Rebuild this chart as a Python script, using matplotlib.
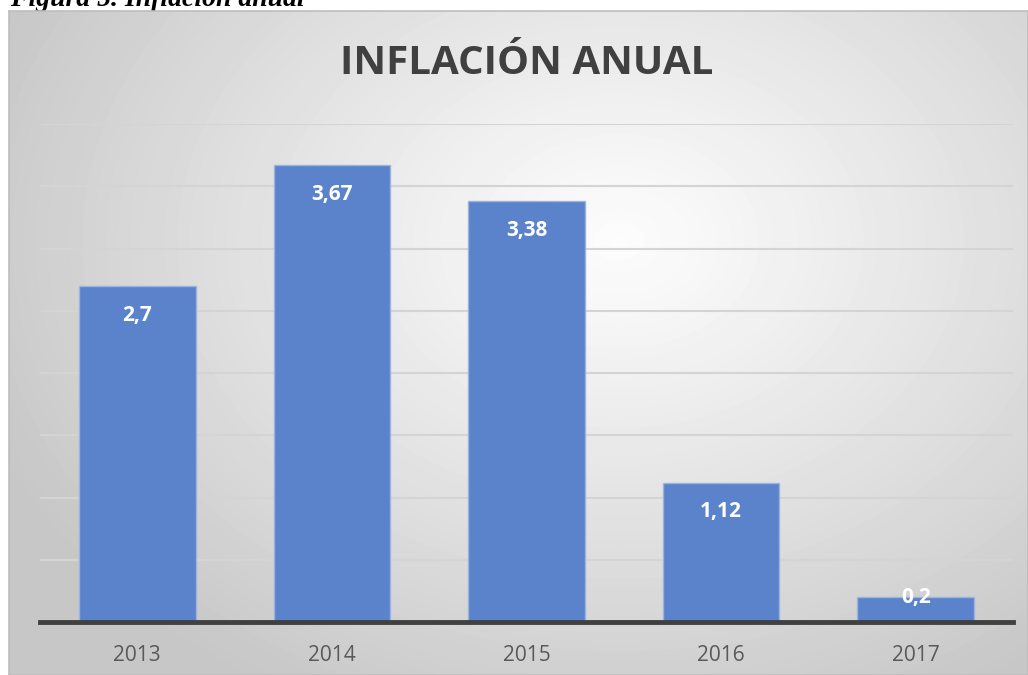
import numpy as np
from matplotlib import pyplot as plt

## DATA
years = ['2013', '2014', '2015', '2016', '2017']
inflacion = [2.7, 3.67, 3.38, 1.12, 0.2]
etiquetas = ['2,7', '3,67', '3,38', '1,12', '0,2']
titulo = 'INFLACIÓN ANUAL'
caption = 'Figura 5. Inflación anual'

W, H = 1028, 675
fig = plt.figure(figsize=(W / 100, H / 100), dpi=100)
fig.patch.set_facecolor('white')

# caption above the chart box (cut off at the top, as in the source)
fig.text(10 / W, 1 - 6 / H, caption, family='Liberation Serif', weight='bold',
         style='italic', fontsize=20, va='baseline', ha='left', zorder=-2)

# chart box with radial gradient
bg = fig.add_axes([9 / W, 0, (W - 9) / W, (H - 11) / H], zorder=-1)
bw, bh = W - 9, H - 11
xx, yy = np.meshgrid(np.arange(bw), np.arange(bh))
r = np.sqrt(((xx - 610) / 680.0) ** 2 + ((yy - 230) / 520.0) ** 2)
grad = 0.99 - 0.21 * np.clip(r, 0, 1) ** 1.1
bg.imshow(grad, cmap='gray', vmin=0, vmax=1, aspect='auto', interpolation='bilinear')
bg.set_xticks([])
bg.set_yticks([])
for s in bg.spines.values():
    s.set_color('#bdbdbd')
    s.set_linewidth(1.2)

# plot area
ax = fig.add_axes([40 / W, (H - 622) / H, (1013 - 40) / W, (622 - 124) / H], zorder=1)
ax.patch.set_alpha(0)
x = np.arange(len(years))
bars = ax.bar(x, inflacion, width=0.6, color='#5a83cb', edgecolor='#9cb3df', linewidth=1, zorder=3)
ax.set_xlim(-0.5, len(years) - 0.5)
ax.set_ylim(0, 4)
ax.set_yticks(np.arange(0.5, 4.01, 0.5))
ax.yaxis.grid(True, color='#d4d4d4', linewidth=1.5, zorder=0)
ax.tick_params(axis='y', left=False, labelleft=False)
ax.tick_params(axis='x', bottom=False, labelsize=15, labelcolor='#595959', pad=13)
ax.set_xticks(x)
ax.set_xticklabels(years, family='Open Sans')
for s in ['top', 'right', 'left']:
    ax.spines[s].set_visible(False)
ax.spines['bottom'].set_color('#404040')
ax.spines['bottom'].set_linewidth(3.5)
ax.spines['bottom'].set_zorder(4)

# data labels inside the bar end; short bars get the label on their top edge
px_per_unit = (622 - 124) / 4.0
for b, lab in zip(bars, etiquetas):
    top = b.get_height()
    off = -21 if top * px_per_unit > 60 else 0
    ax.annotate(lab, (b.get_x() + b.get_width() / 2, top), xytext=(0, off),
                textcoords='offset points', ha='center', va='center',
                color='white', fontsize=15, weight='bold', family='Open Sans', zorder=5)

fig.text(527 / W, 1 - 64 / H, titulo, ha='center', va='center', fontsize=29,
         weight='bold', color='#404040', family='Open Sans')

fig.savefig('out.png', dpi=100)
